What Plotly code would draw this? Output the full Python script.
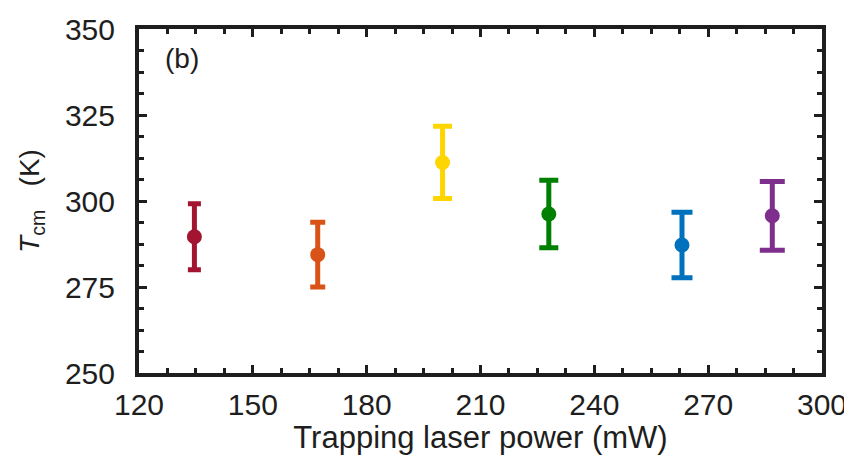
import plotly.graph_objects as go

power_mw = [134.6, 167.1, 200.0, 228.0, 263.1, 286.9]
temp_k = [289.6, 284.4, 311.2, 296.2, 287.2, 295.7]
temp_err = [9.6, 9.4, 10.5, 9.8, 9.5, 10.0]
colors = ["#A2142F", "#D95319", "#FFD500", "#008000", "#0072BD", "#7E2F8E"]
cap_half_px = [6.5, 7.5, 9.5, 9.5, 10.5, 12.5]

x_ticks = [120, 150, 180, 210, 240, 270, 300]
y_ticks = [250, 275, 300, 325, 350]

INK = "#1e1e1e"
FAMILY = "Liberation Sans, Arial, sans-serif"

fig = go.Figure()
for x, y, e, c, w in zip(power_mw, temp_k, temp_err, colors, cap_half_px):
    fig.add_trace(go.Scatter(
        x=[x], y=[y], mode="markers",
        marker=dict(color=c, size=15, symbol="circle"),
        error_y=dict(type="data", array=[e], color=c, thickness=5, width=w),
        showlegend=False,
    ))

tick_font = dict(family=FAMILY, size=30, color=INK)
axis_common = dict(
    showline=True, linecolor=INK, linewidth=4, mirror="ticks",
    ticks="inside", ticklen=8, tickwidth=3, tickcolor=INK,
    showgrid=False, zeroline=False, tickfont=tick_font, automargin=False,
)
fig.update_xaxes(
    range=[120, 300], tickvals=x_ticks, ticklabelstandoff=2,
    minor=dict(dtick=7.5, ticks="inside", ticklen=5, tickwidth=3, tickcolor=INK, showgrid=False),
    title=dict(text="Trapping laser power (mW)", font=dict(family=FAMILY, size=31, color=INK), standoff=4),
    **axis_common,
)
fig.update_yaxes(
    range=[250, 350], tickvals=y_ticks, ticklabelstandoff=14,
    minor=dict(dtick=6.25, ticks="inside", ticklen=5, tickwidth=3, tickcolor=INK, showgrid=False),
    title=dict(text="<i>T</i><sub>cm</sub>&nbsp;&nbsp; (K)", font=dict(family=FAMILY, size=28, color=INK), standoff=18),
    **axis_common,
)
fig.add_annotation(
    text="(b)", xref="paper", yref="paper", x=0.035, y=0.965,
    xanchor="left", yanchor="top", showarrow=False,
    font=dict(family=FAMILY, size=28, color=INK),
)
fig.update_layout(
    width=844, height=447,
    margin=dict(l=131, r=30, t=21, b=82, autoexpand=False),
    plot_bgcolor="white", paper_bgcolor="white",
)
fig.write_html("out.html")
